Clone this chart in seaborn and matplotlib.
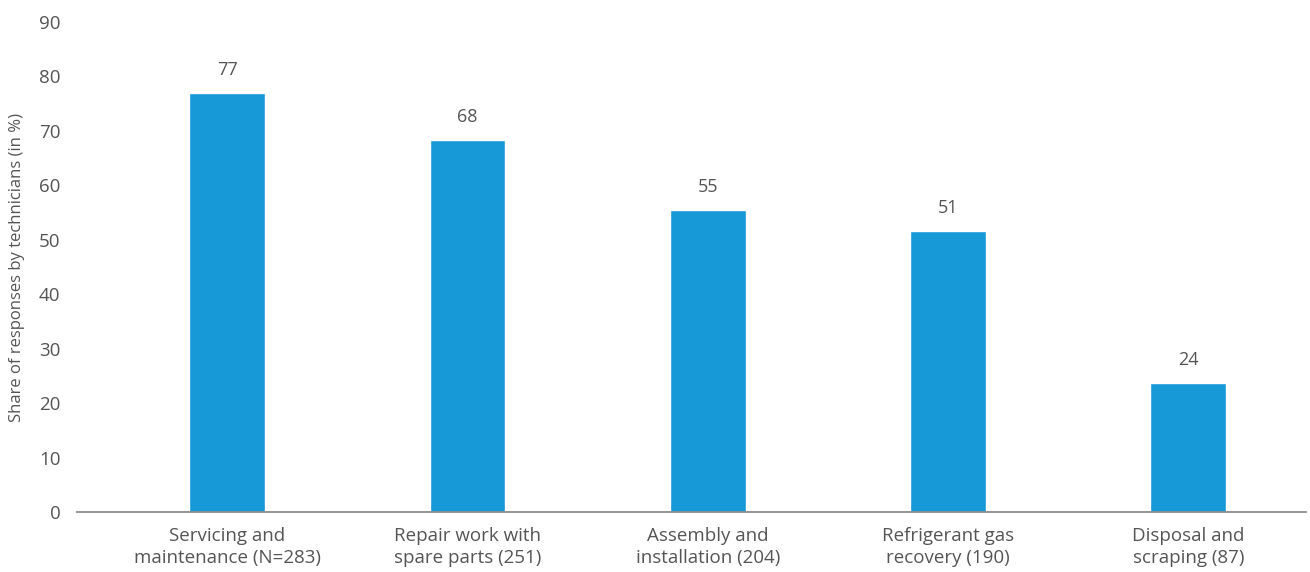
import matplotlib
matplotlib.use("Agg")
import matplotlib.pyplot as plt
import seaborn as sns
import pandas as pd

categories = ["Servicing and\nmaintenance (N=283)", "Repair work with\nspare parts (251)",
              "Assembly and\ninstallation (204)", "Refrigerant gas\nrecovery (190)",
              "Disposal and\nscraping (87)"]
values = [77.0, 68.4, 55.5, 51.6, 23.7]
value_labels = ["77", "68", "55", "51", "24"]
yticks = [0, 10, 20, 30, 40, 50, 60, 70, 80, 90]

sns.set_theme(style="white")
plt.rcParams['font.family'] = ['Open Sans', 'DejaVu Sans']
txt = "#555555"

fig = plt.figure(figsize=(13.10, 5.72), dpi=100)
ax = fig.add_axes([77/1310, 60/572, (1306-77)/1310, (512-22)/572])
df = pd.DataFrame({"cat": categories, "val": values})
sns.barplot(data=df, x="cat", y="val", color="#1799D8", saturation=1, width=0.315, ax=ax)

for i, (v, lab) in enumerate(zip(values, value_labels)):
    ax.annotate(lab, (i, v), xytext=(0, 10), textcoords="offset points",
                ha="center", va="bottom", fontsize=13, color=txt)

ax.set_ylim(0, 90)
ax.set_xlim(-0.625, 4.49)
ax.set_yticks(yticks)
ax.set_yticklabels([str(t) for t in yticks], fontsize=13.5, color=txt)
ax.tick_params(axis="x", labelsize=13.5, colors=txt, length=0, pad=11)
ax.tick_params(axis="y", length=0, pad=12)
ax.set_xlabel("")
ax.set_ylabel("Share of responses by technicians (in %)", fontsize=12, color=txt, labelpad=10)
for s in ["top", "right", "left"]:
    ax.spines[s].set_visible(False)
ax.spines["bottom"].set_color("#8c8c8c")
ax.spines["bottom"].set_linewidth(1.3)
for lbl in ax.get_xticklabels():
    lbl.set_color(txt)
    lbl.set_linespacing(1.25)

fig.savefig("out.png", dpi=100)
